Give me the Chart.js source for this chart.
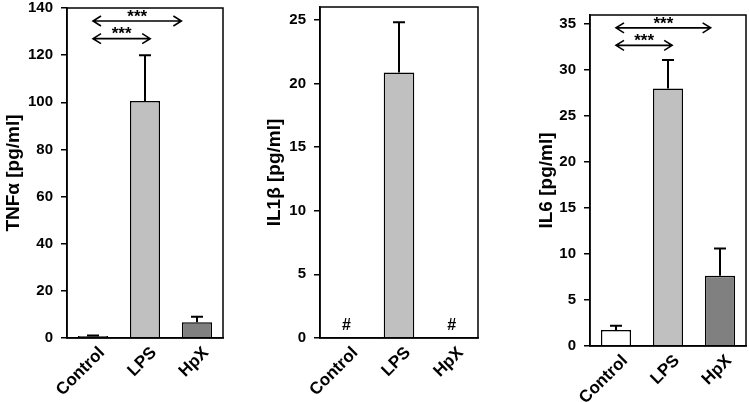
<!DOCTYPE html>
<html>
<head>
<meta charset="utf-8">
<script src="https://cdn.jsdelivr.net/npm/chart.js@4.4.1/dist/chart.umd.min.js"></script>
<style>
  body { margin: 0; background: #fff; width: 749px; height: 402px; overflow: hidden; position: relative; }
  .panel { position: absolute; top: 0; height: 402px; }
</style>
</head>
<body>
<div class="panel" style="left:0;width:250px"><canvas id="tnfChart" width="250" height="402"></canvas></div>
<div class="panel" style="left:250px;width:250px"><canvas id="il1bChart" width="250" height="402"></canvas></div>
<div class="panel" style="left:500px;width:249px"><canvas id="il6Chart" width="249" height="402"></canvas></div>
<script>
var categories = ['Control', 'LPS', 'HpX'];
var barColors = ['#ffffff', '#c0c0c0', '#808080'];

// TNF alpha
var tnfValues = [0.8, 100.5, 6.7];
var tnfErrors = [0.3, 19.5, 2.3];
var tnfTicks = [0, 20, 40, 60, 80, 100, 120, 140];

// IL1 beta (Control and HpX below detection -> '#')
var il1bValues = [0, 20.85, 0];
var il1bErrors = [0, 3.95, 0];
var il1bTicks = [0, 5, 10, 15, 20, 25];
var il1bMarks = ['#', '', '#'];

// IL6
var il6Values = [1.75, 28.0, 7.65];
var il6Errors = [0.45, 3.1, 2.95];
var il6Ticks = [0, 5, 10, 15, 20, 25, 30, 35];

// significance arrows: from / to (category index) and height (data value)
var tnfSigFrom = [0, 0];
var tnfSigTo = [1.1, 1.7];
var tnfSigY = [127, 134.5];
var il6SigFrom = [0, 0];
var il6SigTo = [1.08, 1.82];
var il6SigY = [32.7, 34.6];

var FONT = "Arial, 'Liberation Sans', sans-serif";

// error bars, box, arrows, '#' marks
var marksPlugin = {
  id: 'marks',
  afterDatasetsDraw: function(chart, args, opts) {
    var ctx = chart.ctx;
    var xs = chart.scales.x, ys = chart.scales.y;
    var area = chart.chartArea;
    var meta = chart.getDatasetMeta(0);
    var values = chart.data.datasets[0].data;

    ctx.save();
    ctx.strokeStyle = '#000';
    ctx.fillStyle = '#000';

    // error bars (upper only)
    ctx.lineWidth = 2;
    meta.data.forEach(function(bar, i) {
      var err = opts.errors[i];
      if (!err) return;
      var top = ys.getPixelForValue(values[i] + err);
      ctx.beginPath();
      ctx.moveTo(bar.x, bar.y);
      ctx.lineTo(bar.x, top);
      ctx.moveTo(bar.x - 6, top);
      ctx.lineTo(bar.x + 6, top);
      ctx.stroke();
    });

    // frame
    ctx.lineWidth = 1.5;
    ctx.strokeRect(area.left, area.top, area.right - area.left, area.bottom - area.top);

    // significance arrows
    if (opts.sigFrom) {
      ctx.lineWidth = 1.6;
      ctx.font = 'bold 17px ' + FONT;
      ctx.textAlign = 'center';
      ctx.textBaseline = 'middle';
      for (var k = 0; k < opts.sigFrom.length; k++) {
        var x1 = xs.getPixelForValue(opts.sigFrom[k]);
        var x2 = xs.getPixelForValue(opts.sigTo[k]);
        var y = ys.getPixelForValue(opts.sigY[k]);
        ctx.beginPath();
        ctx.moveTo(x1, y); ctx.lineTo(x2, y);
        ctx.moveTo(x1 + 8, y - 5); ctx.lineTo(x1, y); ctx.lineTo(x1 + 8, y + 5);
        ctx.moveTo(x2 - 8, y - 5); ctx.lineTo(x2, y); ctx.lineTo(x2 - 8, y + 5);
        ctx.stroke();
        ctx.fillText('***', (x1 + x2) / 2, y - 4);
      }
    }

    // '#' marks
    if (opts.hashes) {
      ctx.font = 'bold 16px ' + FONT;
      ctx.textAlign = 'center';
      ctx.textBaseline = 'middle';
      opts.hashes.forEach(function(h, i) {
        if (!h) return;
        ctx.fillText(h, xs.getPixelForValue(i), ys.getPixelForValue(1.0));
      });
    }
    ctx.restore();
  }
};

function makeChart(id, values, errors, ticks, yMax, yTitle, pad, yWidth, xHeight, extra) {
  var markOpts = { errors: errors };
  for (var key in extra) markOpts[key] = extra[key];

  return new Chart(document.getElementById(id), {
    type: 'bar',
    data: {
      labels: categories,
      datasets: [{
        data: values,
        backgroundColor: barColors,
        borderColor: '#000',
        borderWidth: 1.5,
        borderSkipped: 'bottom',
        categoryPercentage: 1,
        barPercentage: 0.58
      }]
    },
    options: {
      responsive: false,
      animation: false,
      events: [],
      layout: { padding: pad },
      plugins: {
        legend: { display: false },
        tooltip: { enabled: false },
        marks: markOpts
      },
      scales: {
        x: {
          grid: { display: false },
          border: { display: true, color: '#000', width: 1.5 },
          ticks: {
            color: '#000',
            font: { family: FONT, size: 17, weight: 'bold' },
            minRotation: 45,
            maxRotation: 45,
            labelOffset: 9,
            padding: -3
          },
          afterFit: function(scale) {
            scale.height = xHeight;
            scale.paddingLeft = 0;
            scale.paddingRight = 0;
          }
        },
        y: {
          min: 0,
          max: yMax,
          grid: { drawOnChartArea: false, drawTicks: true, tickLength: 6, color: '#000', lineWidth: 1.5 },
          border: { display: true, color: '#000', width: 1.5 },
          ticks: {
            color: '#000',
            font: { family: FONT, size: 15, weight: 'bold' },
            padding: 8
          },
          afterBuildTicks: function(scale) {
            scale.ticks = ticks.map(function(v) { return { value: v }; });
          },
          title: {
            display: true,
            text: yTitle,
            color: '#000',
            font: { family: FONT, size: 19, weight: 'bold' },
            padding: 0
          },
          afterFit: function(scale) {
            scale.width = yWidth;
            scale.paddingTop = 0;
            scale.paddingBottom = 0;
          }
        }
      }
    },
    plugins: [marksPlugin]
  });
}

makeChart('tnfChart', tnfValues, tnfErrors, tnfTicks, 140, 'TNF\u03B1 [pg/ml]',
  { left: 2, right: 27, top: 8, bottom: 0 }, 65, 64,
  { sigFrom: tnfSigFrom, sigTo: tnfSigTo, sigY: tnfSigY });

makeChart('il1bChart', il1bValues, il1bErrors, il1bTicks, 26, 'IL1\u03B2 [pg/ml]',
  { left: 13, right: 22, top: 7, bottom: 0 }, 57, 64,
  { hashes: il1bMarks });

makeChart('il6Chart', il6Values, il6Errors, il6Ticks, 36, 'IL6 [pg/ml]',
  { left: 35, right: 3, top: 15, bottom: 0 }, 55, 56,
  { sigFrom: il6SigFrom, sigTo: il6SigTo, sigY: il6SigY });
</script>
</body>
</html>
